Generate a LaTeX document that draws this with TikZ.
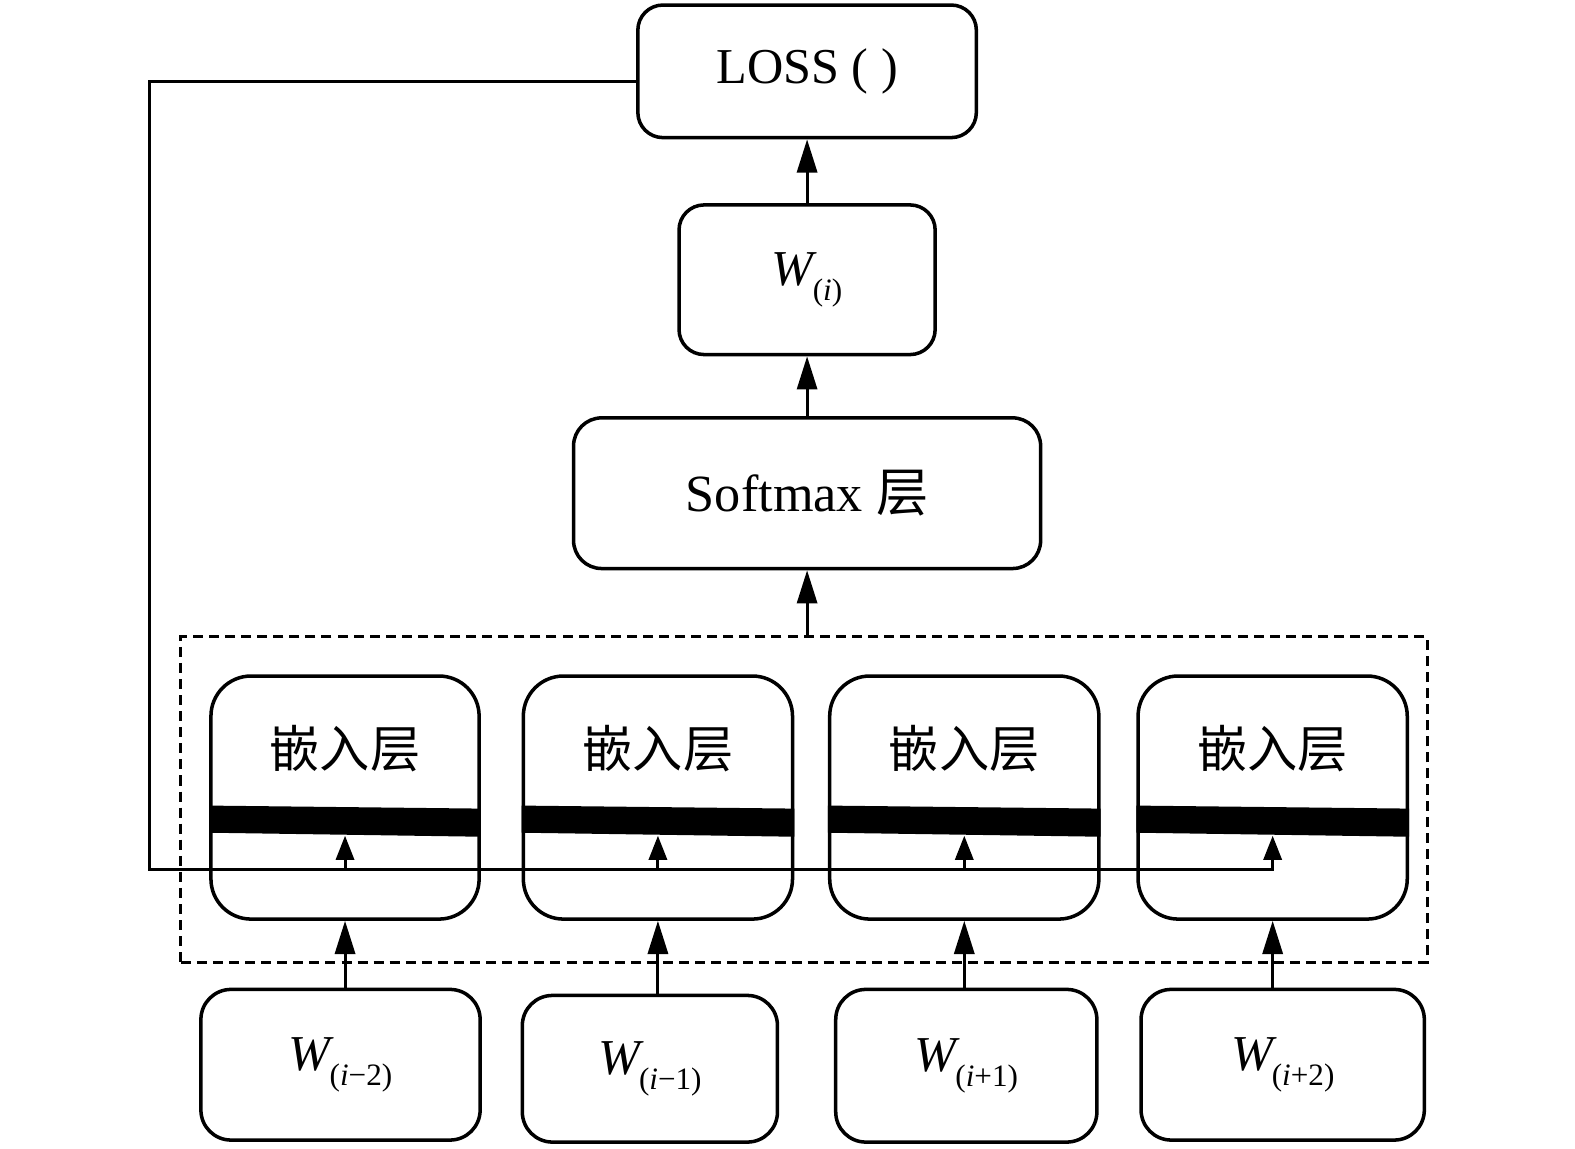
\documentclass[tikz,border=0pt]{standalone}
\usepackage{fontspec}
\setmainfont{Liberation Serif}
\newfontfamily\cjk{Noto Sans CJK SC}
\usetikzlibrary{arrows.meta}
\newcommand{\Wsub}[1]{{\itshape W}\kern-1pt\raisebox{-15pt}{\fontsize{31}{31}\selectfont #1}}
\begin{document}
\begin{tikzpicture}[x=1pt,y=-1pt,
  box/.style={draw, line width=3.5pt, inner sep=0pt, font=\fontsize{50}{60}\selectfont},
  conn/.style={line width=3pt},
  bigarr/.style={line width=3pt, -{Triangle[length=33pt,width=20pt]}},
  smallarr/.style={line width=3pt, -{Triangle[length=24pt,width=18pt]}},
  lbl/.style={inner sep=0pt, font=\fontsize{50}{60}\selectfont}]
\useasboundingbox (0,0) rectangle (1568,1143);
% group dashed box
\node[draw, dash pattern=on 10pt off 6pt, line width=2.8pt, minimum width=1241pt, minimum height=324pt, inner sep=0pt] (grp) at (800.5,796) {};
% top boxes
\node[box, rounded corners=25pt, minimum width=337pt, minimum height=132pt] (loss) at (803.5,71) {LOSS ( )};
\node[box, rounded corners=25pt, minimum width=255pt, minimum height=149pt] (wi) at (803.5,278.5) {\Wsub{(\textit{i})}};
\node[box, rounded corners=28pt, minimum width=465pt, minimum height=150pt] (soft) at (803.5,491) {\fontsize{52}{60}\selectfont Softmax {\cjk 层}};
% embedding boxes
\node[box, rounded corners=40pt, minimum width=267pt, minimum height=242pt] (emb1) at (343.5,794) {};
\node[box, rounded corners=40pt, minimum width=268pt, minimum height=242pt] (emb2) at (655,794) {};
\node[box, rounded corners=40pt, minimum width=268pt, minimum height=242pt] (emb3) at (960,794) {};
\node[box, rounded corners=40pt, minimum width=268pt, minimum height=242pt] (emb4) at (1267,794) {};
\foreach \i in {1,...,4}{
  \node[lbl] (et\i) at (emb\i |- 0,745) {\cjk 嵌入层};
  \fill (emb\i.west |- 0,802) -- (emb\i.east |- 0,805) -- (emb\i.east |- 0,833) -- (emb\i.west |- 0,829) -- cycle;
}
% bottom boxes
\node[box, rounded corners=30pt, minimum width=278pt, minimum height=150pt] (w1) at (339,1060) {\Wsub{(\textit{i}−2)}};
\node[box, rounded corners=30pt, minimum width=254pt, minimum height=146pt] (w2) at (647,1064) {\Wsub{(\textit{i}−1)}};
\node[box, rounded corners=30pt, minimum width=260pt, minimum height=152pt] (w3) at (962,1061) {\Wsub{(\textit{i}+1)}};
\node[box, rounded corners=30pt, minimum width=282pt, minimum height=150pt] (w4) at (1277,1060) {\Wsub{(\textit{i}+2)}};
% connectors
\coordinate (bus) at (149,866);
\draw[bigarr] (wi.north) -- (loss.south);
\draw[bigarr] (soft.north) -- (wi.south);
\draw[bigarr] (soft.south |- grp.north) -- (soft.south);
\draw[smallarr] ([yshift=-10pt]loss.west) -| (bus) -- (emb4 |- bus) -- (emb4 |- 0,832);
\foreach \i in {1,2,3}{
  \draw[smallarr] (emb\i |- bus) -- (emb\i |- 0,832);
}
\foreach \i in {1,...,4}{
  \draw[bigarr] (emb\i.south |- w\i.north) -- (emb\i.south);
}
\end{tikzpicture}
\end{document}
